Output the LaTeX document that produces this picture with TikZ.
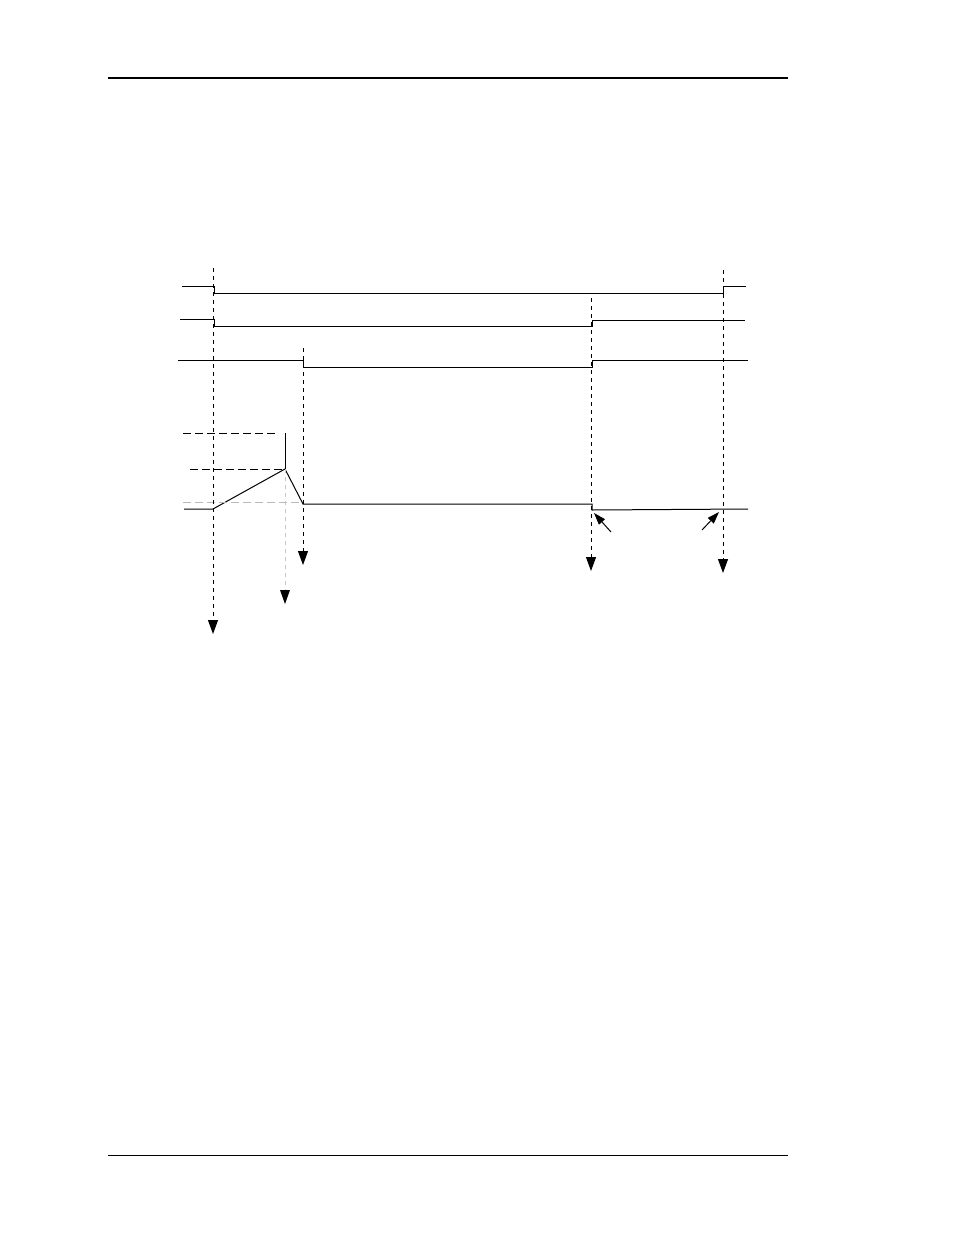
\documentclass[tikz,border=0pt]{standalone}
\usetikzlibrary{arrows.meta}
\begin{document}
\begin{tikzpicture}[x=1pt,y=-1pt,
  sig/.style={line width=1pt,black},
  guide/.style={line width=1pt,dash pattern=on 4pt off 4pt},
  hguide/.style={line width=1pt,dash pattern=on 8pt off 4pt},
  marker/.style={-{Triangle[width=10pt,length=14pt]}},
  pointer/.style={line width=1pt,-{Triangle[width=8pt,length=12pt]}}]
\useasboundingbox (0,0) rectangle (954,1235);
% page rules
\draw[line width=2pt] (108,78) -- (788,78);
\draw[line width=1pt] (108,1155) -- (788,1155);
% signal 1
\draw[sig] (182,286) -- (214,286) -- (214,293) -- (723,293) -- (723,286) -- (746,286);
% signal 2
\draw[sig] (180,319) -- (214,319) -- (214,326) -- (592,326) -- (592,320) -- (745,320);
% signal 3
\draw[sig] (178,360) -- (303,360) -- (303,367) -- (592,367) -- (592,360) -- (748,360);
% analog signal
\draw[sig] (184,509) -- (213,509) -- (285,469) -- (303,504) -- (592,504) -- (592,510) -- (748,509);
\draw[sig] (285,433) -- (285,469);
% horizontal reference dashes
\draw[hguide] (183,433) -- (277,433);
\draw[hguide] (190,469) -- (285,469);
\draw[hguide,gray!55] (183,502) -- (300,502);
% vertical timing markers
\draw[guide,marker] (213,268) -- (213,634);
\draw[guide,marker] (303,348) -- (303,565);
\draw[guide,gray!45] (285,469) -- (285,592);
\fill (280,590) -- (290,590) -- (285,604) -- cycle;
\draw[guide,marker] (591,298) -- (591,571);
\draw[guide,marker] (723,270) -- (723,573);
% pointers
\draw[pointer] (611,532) -- (594,513);
\draw[pointer] (702,530) -- (719,512);
\end{tikzpicture}
\end{document}
